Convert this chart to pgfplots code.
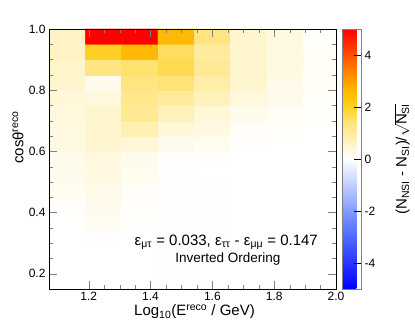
\documentclass[border=0pt]{standalone}
\usepackage{pgfplots}
\pgfplotsset{compat=1.18}
\usepackage{pgfplotstable}
\usepackage{amsmath}
\usepackage{fontspec}
\setmainfont{Liberation Sans}

% bin centres: x = Log10(E/GeV), y = cos(theta); c = (N_NSI - N_SI)/sqrt(N_SI)
\pgfplotstableread{
x y c
1.130 0.175 0
1.248 0.175 0
1.365 0.175 0
1.483 0.175 0
1.600 0.175 0
1.718 0.175 0
1.835 0.175 0
1.953 0.175 0
1.130 0.225 0
1.248 0.225 0
1.365 0.225 0
1.483 0.225 -0.01
1.600 0.225 0
1.718 0.225 0
1.835 0.225 0
1.953 0.225 0
1.130 0.275 0
1.248 0.275 0.01
1.365 0.275 0
1.483 0.275 -0.01
1.600 0.275 -0.01
1.718 0.275 0
1.835 0.275 0
1.953 0.275 0
1.130 0.325 0
1.248 0.325 0.03
1.365 0.325 0
1.483 0.325 -0.02
1.600 0.325 -0.01
1.718 0.325 0
1.835 0.325 0
1.953 0.325 0
1.130 0.375 0.02
1.248 0.375 0.15
1.365 0.375 0.03
1.483 0.375 -0.03
1.600 0.375 -0.02
1.718 0.375 0
1.835 0.375 0
1.953 0.375 0
1.130 0.425 0.05
1.248 0.425 0.2
1.365 0.425 0.05
1.483 0.425 -0.03
1.600 0.425 -0.03
1.718 0.425 0
1.835 0.425 0
1.953 0.425 0
1.130 0.475 0.15
1.248 0.475 0.25
1.365 0.475 0.1
1.483 0.475 -0.03
1.600 0.475 -0.02
1.718 0.475 0
1.835 0.475 0
1.953 0.475 0
1.130 0.525 0.2
1.248 0.525 0.3
1.365 0.525 0.15
1.483 0.525 -0.02
1.600 0.525 0
1.718 0.525 0
1.835 0.525 0
1.953 0.525 0
1.130 0.575 0.2
1.248 0.575 0.35
1.365 0.575 0.2
1.483 0.575 0.05
1.600 0.575 0.05
1.718 0.575 0
1.835 0.575 0
1.953 0.575 0
1.130 0.625 0.3
1.248 0.625 0.5
1.365 0.625 0.4
1.483 0.625 0.2
1.600 0.625 0.15
1.718 0.625 0.05
1.835 0.625 0
1.953 0.625 0
1.130 0.675 0.3
1.248 0.675 0.5
1.365 0.675 0.8
1.483 0.675 0.4
1.600 0.675 0.3
1.718 0.675 0.1
1.835 0.675 0.05
1.953 0.675 0
1.130 0.725 0.35
1.248 0.725 0.5
1.365 0.725 1.1
1.483 0.725 0.7
1.600 0.725 0.4
1.718 0.725 0.2
1.835 0.725 0.1
1.953 0.725 0.05
1.130 0.775 0.4
1.248 0.775 0.35
1.365 0.775 1.2
1.483 0.775 1.0
1.600 0.775 0.7
1.718 0.775 0.35
1.835 0.775 0.2
1.953 0.775 0.05
1.130 0.825 0.5
1.248 0.825 0.2
1.365 0.825 1.3
1.483 0.825 1.4
1.600 0.825 0.9
1.718 0.825 0.5
1.835 0.825 0.25
1.953 0.825 0.1
1.130 0.875 0.55
1.248 0.875 1.3
1.365 0.875 1.5
1.483 0.875 1.7
1.600 0.875 1.1
1.718 0.875 0.5
1.835 0.875 0.3
1.953 0.875 0.1
1.130 0.925 0.6
1.248 0.925 2.0
1.365 0.925 2.6
1.483 0.925 1.6
1.600 0.925 1.0
1.718 0.925 0.5
1.835 0.925 0.3
1.953 0.925 0.1
1.130 0.975 0.6
1.248 0.975 6.0
1.365 0.975 6.0
1.483 0.975 2.6
1.600 0.975 1.3
1.718 0.975 0.5
1.835 0.975 0.3
1.953 0.975 0.05
}\histdata

\begin{document}
\begin{tikzpicture}
\begin{axis}[
    at={(49pt,40pt)}, anchor=south west,
    scale only axis,
    width=287pt, height=260pt,
    xmin=1.0715, xmax=2.0,
    ymin=0.15, ymax=1.0,
    enlargelimits=false,
    axis on top,
    tick align=inside,
    xtick={1.2,1.4,1.6,1.8,2.0},
    ytick={0.2,0.4,0.6,0.8,1.0},
    minor x tick num=3,
    minor y tick num=3,
    major tick length=8pt,
    minor tick length=4pt,
    tick label style={font=\fontsize{12}{14}\selectfont,
        /pgf/number format/assume math mode=true,
        /pgf/number format/fixed,
        /pgf/number format/fixed zerofill,
        /pgf/number format/precision=1},
    xlabel={Log\textsubscript{10}(E\textsuperscript{reco} / GeV)},
    ylabel={cosθ\textsuperscript{reco}},
    label style={font=\fontsize{15}{18}\selectfont},
    xlabel style={at={(axis description cs:0.507,-0.088)}, anchor=center},
    ylabel style={at={(axis description cs:-0.108,0.583)}, anchor=center},
    colormap={nsi}{rgb255(0cm)=(0,0,255); rgb255(2.5cm)=(100,130,255); rgb255(5cm)=(255,255,255); rgb255(6.5cm)=(255,225,110); rgb255(7.1cm)=(255,205,20); rgb255(7.7cm)=(255,180,0); rgb255(8.5cm)=(255,120,0); rgb255(10cm)=(255,0,0)},
    point meta min=-5, point meta max=5,
    colorbar,
    colorbar style={
        at={(parent axis.north east)}, anchor=north west,
        xshift=-2.5pt, % default adds 0.3cm, total about 6pt
        scale only axis,
        width=19pt,
        height=260pt,
        ytick={-4,-2,0,2,4},
        ytick pos=right,
        yticklabel pos=right,
        tick align=inside,
        major tick length=7pt,
        axis line style={gray},
        ytick style={black},
        yticklabel style={font=\fontsize{12}{14}\selectfont,
            /pgf/number format/assume math mode=true,
            /pgf/number format/fixed,
            /pgf/number format/precision=0},
        ylabel={(N\textsubscript{NSI} - N\textsubscript{SI})/$\sqrt{\text{N\textsubscript{SI}}}$},
        ylabel style={font=\fontsize{15}{18}\selectfont, at={(axis description cs:3.16,0.5)}, anchor=center},
    },
]
\addplot[matrix plot*, mesh/cols=8, point meta=explicit] table[x=x, y=y, meta=c] {\histdata};
\node[font=\fontsize{15}{18}\selectfont] at (axis cs:1.645,0.302) {ε\textsubscript{μτ} = 0.033, ε\textsubscript{ττ} - ε\textsubscript{μμ} = 0.147};
\node[font=\fontsize{13.5}{16}\selectfont] at (axis cs:1.65,0.249) {Inverted Ordering};
\end{axis}
\pgfresetboundingbox
\useasboundingbox (0,0) rectangle (415pt,329pt);
\end{tikzpicture}
\end{document}
